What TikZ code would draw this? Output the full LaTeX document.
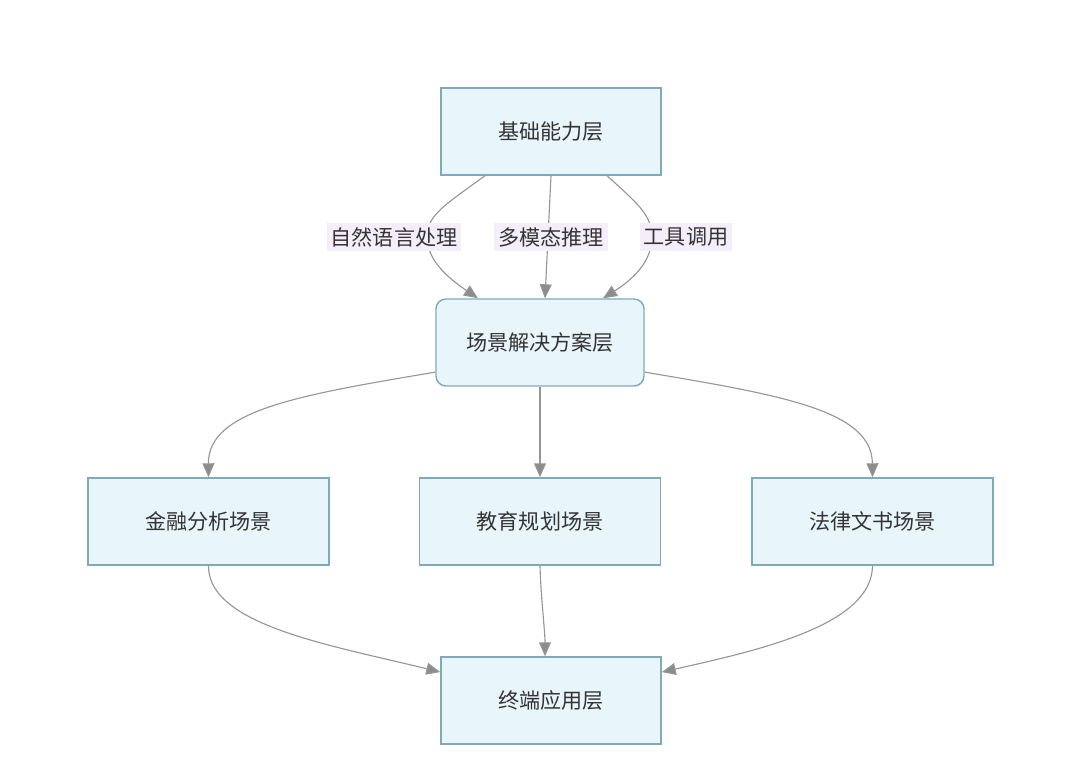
\documentclass[tikz,border=0pt]{standalone}
\usepackage{fontspec}
\newfontfamily\cjk{Noto Sans CJK SC}
\usetikzlibrary{arrows.meta}
\definecolor{boxfill}{RGB}{232,246,252}
\definecolor{boxline}{RGB}{128,170,184}
\definecolor{linkgray}{RGB}{150,150,150}
\definecolor{tagfill}{RGB}{243,238,250}
\definecolor{textgray}{RGB}{51,51,51}
\begin{document}
\begin{tikzpicture}[x=0.025cm, y=-0.025cm,
  layer/.style={draw=boxline, fill=boxfill, line width=1pt, minimum width=5.5cm, minimum height=2.175cm, text=textgray, font=\cjk\fontsize{15pt}{18pt}\selectfont},
  scene/.style={layer, minimum width=6.025cm},
  tag/.style={fill=tagfill, inner sep=0.1cm, text=textgray, font=\cjk\fontsize{15pt}{18pt}\selectfont},
  link/.style={draw=linkgray, line width=0.8pt, -{Triangle[length=0.35cm, width=0.3cm, fill=linkgray!85!black!90]}}]
  \useasboundingbox (0,0) rectangle (1080,760);

  % Layers
  \node[layer] (base) at (551,131.5) {基础能力层};
  \node[layer, rounded corners=0.25cm, minimum width=5.2cm] (solve) at (540,342.5) {场景解决方案层};
  \node[layer] (term) at (551,700.5) {终端应用层};

  % Scenes
  \node[scene] (fin) at (208.5,521.5) {金融分析场景};
  \node[scene] (edu) at (540,521.5) {教育规划场景};
  \node[scene] (law) at (872.5,521.5) {法律文书场景};

  % Capabilities into the solution layer
  \draw[link] ([xshift=-1.65cm]base.south) .. controls (445,205) and (427,215) .. (427,237)
    .. controls (427,260) and (448,278) .. ([xshift=-1.55cm]solve.north);
  \draw[link] (base.south) -- ([xshift=0.125cm]solve.north);
  \draw[link] ([xshift=1.4cm]base.south) .. controls (637,203) and (652,215) .. (652,237)
    .. controls (652,262) and (632,280) .. ([xshift=1.575cm]solve.north);
  \node[tag] (nlp) at (394,237) {自然语言处理};
  \node[tag] (mm) at (551,237) {多模态推理};
  \node[tag] (tool) at (686,237) {工具调用};

  % Solution layer to scenes
  \draw[link] ([yshift=-0.74cm]solve.west) .. controls (300,395) and (208,410) .. (fin.north);
  \draw[link] (solve.south) -- (edu.north);
  \draw[link] ([yshift=-0.74cm]solve.east) .. controls (780,395) and (872,410) .. (law.north);

  % Scenes to terminal layer
  \draw[link] (fin.south) .. controls (208,625) and (330,645) .. ([yshift=0.71cm]term.west);
  \draw[link] (edu.south) .. controls (541,600) and (545,630) .. ([xshift=-0.15cm]term.north);
  \draw[link] (law.south) .. controls (872,625) and (760,650) .. ([yshift=0.71cm]term.east);
\end{tikzpicture}
\end{document}
